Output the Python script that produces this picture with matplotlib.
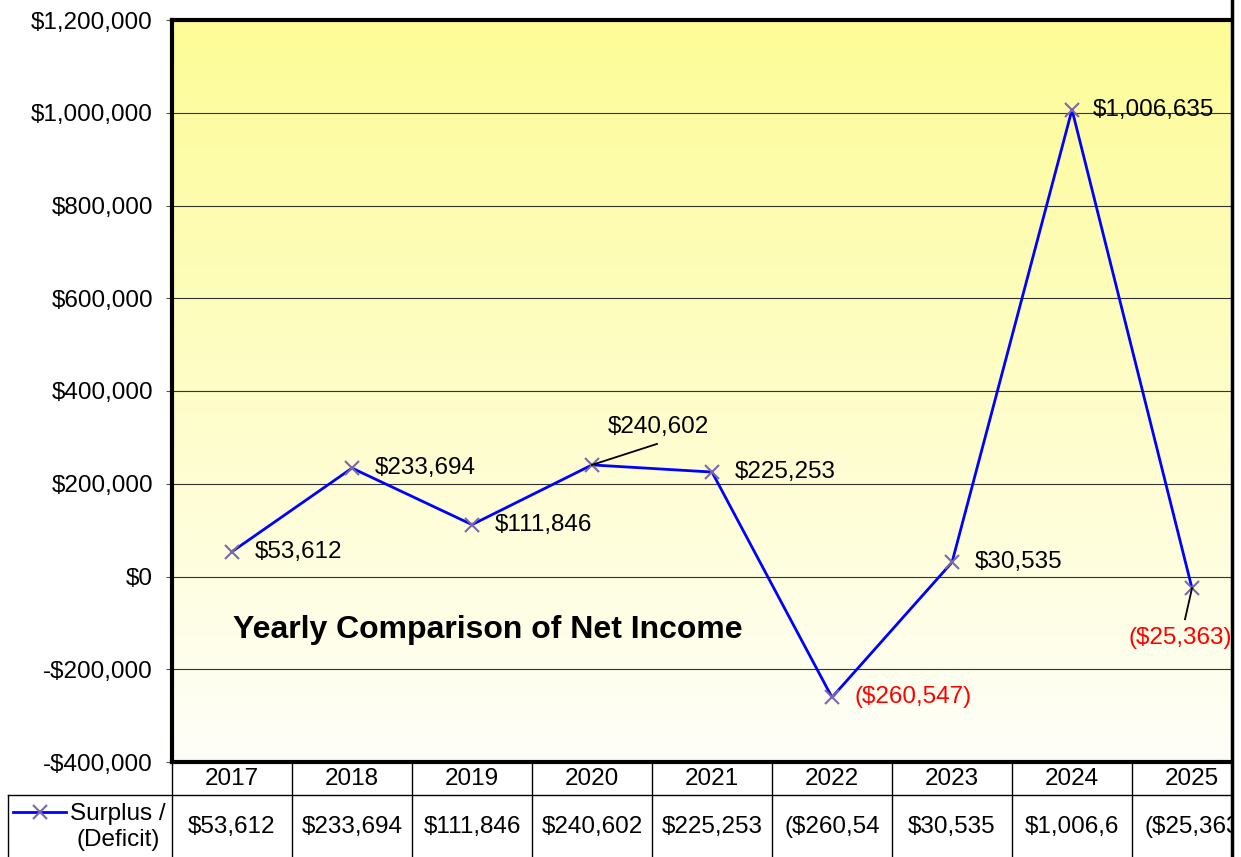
import numpy as np
import matplotlib
matplotlib.use('Agg')
import matplotlib.pyplot as plt
from matplotlib.lines import Line2D
from matplotlib.patches import Rectangle

years = ['2017', '2018', '2019', '2020', '2021', '2022', '2023', '2024', '2025']
net_income = [53612, 233694, 111846, 240602, 225253, -260547, 30535, 1006635, -25363]
yticks = [-400000, -200000, 0, 200000, 400000, 600000, 800000, 1000000, 1200000]
title = 'Yearly Comparison of Net Income'
series_name = 'Surplus /\n(Deficit)'

plt.rcParams['font.family'] = ['Liberation Sans', 'DejaVu Sans']
FS = 17.5

W, H = 1241, 857
fig = plt.figure(figsize=(W / 100, H / 100), dpi=100)
fig.patch.set_facecolor('white')

def fx(px):
    return px / W

def fy(py):
    return 1 - py / H

# plot area (right edge runs past the picture, like the cropped original)
ax = fig.add_axes([fx(172), fy(762), fx(1080), 742 / H])
ax.set_xlim(-0.5, len(years) - 0.5)
ax.set_ylim(-400000, 1200000)

# yellow -> white gradient background
grad = np.linspace(0, 1, 256).reshape(-1, 1)
top = np.array([253, 252, 150]) / 255.
bot = np.array([255, 255, 250]) / 255.
img = top[None, None, :] * (1 - grad[:, :, None]) + bot[None, None, :] * grad[:, :, None]
ax.imshow(img, extent=[0, 1, 0, 1], transform=ax.transAxes, aspect='auto', zorder=0)

for v in yticks[1:-1]:
    ax.axhline(v, color='#333333', lw=0.8, zorder=1)

x = np.arange(len(years))
ax.plot(x, net_income, color='#0000FF', lw=2, zorder=3, clip_on=False)
ax.plot(x, net_income, ls='none', marker='x', ms=10, mew=1.5, color='#7B68A6', zorder=4, clip_on=False)

def money(v):
    return '${:,.0f}'.format(v) if v >= 0 else '(${:,.0f})'.format(-v)

# data labels: (offset x px, offset y px, ha, leader line)
label_pos = [(23, 0, 'left', False), (23, 0, 'left', False), (23, 0, 'left', False),
             (66, 38, 'center', True), (23, 0, 'left', False), (23, 0, 'left', False),
             (23, 0, 'left', False), (21, 0, 'left', False), (-12, -50, 'center', True)]
inv = fig.transFigure.inverted()
for i, v in enumerate(net_income):
    dx, dy, ha, lead = label_pos[i]
    col = 'red' if v < 0 else 'black'
    ax.annotate(money(v), (i, v), xytext=(dx, dy), textcoords='offset pixels',
                ha=ha, va='center', fontsize=FS, color=col, zorder=5, annotation_clip=False)
    if lead:
        p = ax.transData.transform((i, v))
        if dy > 0:
            end = (p[0] + 65, p[1] + 21)
        else:
            end = (p[0] - 7, p[1] - 31)
        a, b = inv.transform(p), inv.transform(end)
        fig.add_artist(Line2D([a[0], b[0]], [a[1], b[1]], color='black', lw=1.3))

fig.text(fx(233), fy(630), title, fontsize=23, fontweight='bold', ha='left', va='center')

ax.set_yticks(yticks)
ax.set_yticklabels(['${:,.0f}'.format(v) if v >= 0 else '-${:,.0f}'.format(-v) for v in yticks])
ax.tick_params(axis='y', length=4.3, width=0.8, color='#555555', pad=9.4, labelsize=FS)
ax.set_xticks([])

for s in ['left', 'top', 'bottom']:
    ax.spines[s].set_linewidth(3)
    ax.spines[s].set_color('black')
ax.spines['right'].set_visible(False)

# data table under the plot
def hline(y, x0, x1, lw=1, z=2):
    fig.add_artist(Line2D([fx(x0), fx(x1)], [fy(y), fy(y)], color='black', lw=lw, zorder=z))

def vline(xp, y0, y1, lw=1, z=2):
    fig.add_artist(Line2D([fx(xp), fx(xp)], [fy(y0), fy(y1)], color='black', lw=lw, zorder=z))

hline(795, 8, W)
vline(8, 795, H)
for k in range(len(years) + 1):
    vline(172 + 120 * k, 762, H)

for i, (yr, v) in enumerate(zip(years, net_income)):
    cx = 232 + 120 * i
    fig.text(fx(cx), fy(779), yr, fontsize=FS, ha='center', va='center')
    fig.text(fx(cx), fy(827), money(v)[:8], fontsize=FS, ha='center', va='center')

# legend key in the table
fig.add_artist(Line2D([fx(13), fx(66)], [fy(812), fy(812)], color='#0000FF', lw=2))
fig.add_artist(Line2D([fx(40)], [fy(812)], ls='none', marker='x', ms=10, mew=1.5, color='#7B68A6'))
fig.text(fx(118), fy(827), series_name, fontsize=FS, ha='center', va='center', multialignment='center',
         linespacing=1.25)

# right edge of the cropped picture
fig.add_artist(Rectangle((fx(1233), 0), 1 - fx(1233), 1, transform=fig.transFigure,
                         facecolor='white', edgecolor='none', zorder=20))
vline(1232, 0, H, lw=2.5, z=21)

plt.savefig('out.png', dpi=100)
